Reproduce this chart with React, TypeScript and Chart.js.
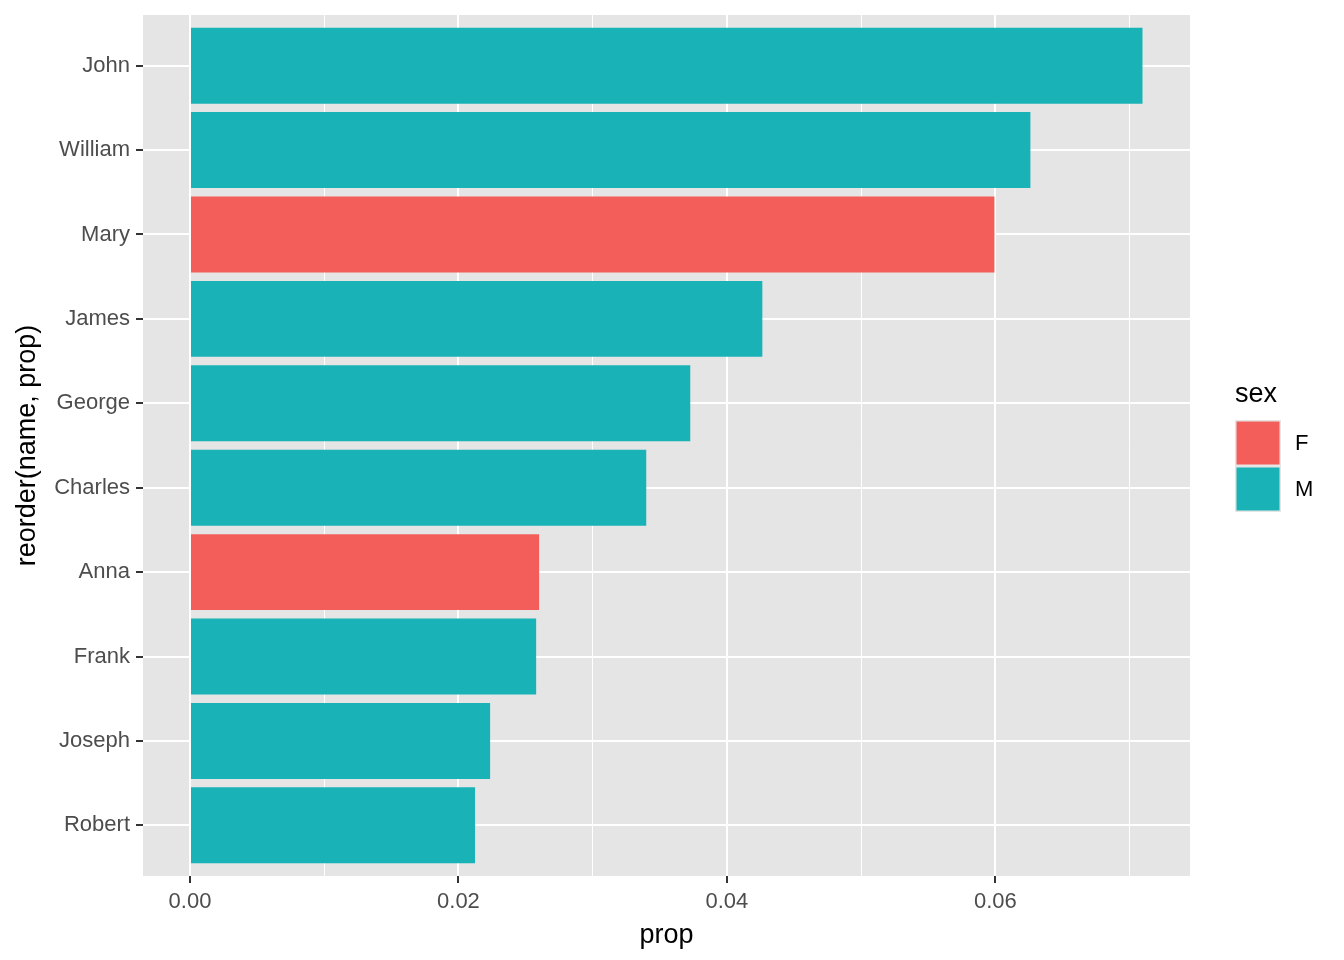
import React, { useEffect, useRef } from "react";
import { Chart, registerables } from "chart.js";

Chart.register(...registerables);

// ---- data ----
const names = ["Robert", "Joseph", "Frank", "Anna", "Charles", "George", "James", "Mary", "William", "John"];
const props = [0.02124, 0.02236, 0.02579, 0.02601, 0.03399, 0.03727, 0.04264, 0.05993, 0.06261, 0.07096];
const sexes = ["M", "M", "M", "F", "M", "M", "M", "F", "M", "M"];
const xTicks = [0, 0.01, 0.02, 0.03, 0.04, 0.05, 0.06, 0.07];
const xMajorTicks = [0, 0.02, 0.04, 0.06];
const sexLevels = ["F", "M"];
const sexColors = ["#F35E5A", "#19B2B7"];

const FONT = '"Liberation Sans", Arial, Helvetica, sans-serif';
const PANEL_BG = "#E5E5E5";

const isMajor = (v: number) => xMajorTicks.some((m) => Math.abs(m - v) < 1e-9);

const decorPlugin = {
  id: "decor",
  beforeDraw(chart: any) {
    const { ctx, chartArea } = chart;
    ctx.save();
    ctx.fillStyle = "#FFFFFF";
    ctx.fillRect(0, 0, chart.width, chart.height);
    ctx.fillStyle = PANEL_BG;
    ctx.fillRect(chartArea.left, chartArea.top, chartArea.right - chartArea.left, chartArea.bottom - chartArea.top);
    ctx.restore();
  },
  afterDraw(chart: any) {
    const { ctx, chartArea } = chart;
    ctx.save();
    // axis titles
    ctx.fillStyle = "#000000";
    ctx.font = `27px ${FONT}`;
    ctx.textAlign = "center";
    ctx.textBaseline = "alphabetic";
    ctx.fillText("prop", (chartArea.left + chartArea.right) / 2, 943);
    ctx.save();
    ctx.translate(35, (chartArea.top + chartArea.bottom) / 2);
    ctx.rotate(-Math.PI / 2);
    ctx.fillText("reorder(name, prop)", 0, 0);
    ctx.restore();

    // legend
    const lx = 1235;
    ctx.textAlign = "left";
    ctx.fillText("sex", lx, 402);
    const keySize = 46;
    const top0 = 420;
    ctx.font = `22px ${FONT}`;
    ctx.textBaseline = "middle";
    sexLevels.forEach((lvl, i) => {
      const ky = top0 + i * keySize;
      ctx.fillStyle = PANEL_BG;
      ctx.fillRect(lx, ky, keySize, keySize);
      ctx.fillStyle = sexColors[i];
      ctx.fillRect(lx + 1.5, ky + 1.5, keySize - 3, keySize - 3);
      ctx.fillStyle = "#000000";
      ctx.fillText(lvl, lx + 60, ky + keySize / 2 + 1);
    });
    ctx.restore();
  },
};

export default function App() {
  const canvasRef = useRef<HTMLCanvasElement | null>(null);

  useEffect(() => {
    if (!canvasRef.current) return;
    const chart = new Chart(canvasRef.current, {
      type: "bar",
      data: {
        datasets: [
          {
            label: "prop",
            data: names.map((n, i) => ({ x: props[i], y: i + 1 })),
            backgroundColor: sexes.map((s) => sexColors[sexLevels.indexOf(s)]),
            borderWidth: 0,
            barPercentage: 0.9,
            categoryPercentage: 1.0,
          },
        ],
      },
      options: {
        indexAxis: "y",
        responsive: false,
        animation: false,
        devicePixelRatio: 1,
        layout: { padding: { top: 15, right: 154, left: 0, bottom: 0 } },
        plugins: {
          legend: { display: false },
          tooltip: { enabled: false },
          title: { display: false },
        },
        scales: {
          x: {
            type: "linear",
            min: -0.0035,
            max: 0.0745,
            offset: false,
            border: { display: false },
            afterBuildTicks: (scale: any) => {
              scale.ticks = xTicks.map((v) => ({ value: v }));
            },
            afterFit: (scale: any) => {
              scale.height = 84;
            },
            grid: {
              offset: false,
              color: "#FFFFFF",
              lineWidth: (c: any) => (c.tick && isMajor(c.tick.value) ? 2 : 1),
              tickLength: 7,
              tickColor: (c: any) => (c.tick && isMajor(c.tick.value) ? "#333333" : "rgba(0,0,0,0)"),
              tickWidth: 2,
            },
            ticks: {
              autoSkip: false,
              maxRotation: 0,
              padding: 6,
              color: "#4D4D4D",
              font: { family: FONT, size: 22 },
              callback: (value: any) => (isMajor(Number(value)) ? Number(value).toFixed(2) : ""),
            },
          },
          y: {
            type: "linear",
            min: 0.4,
            max: 10.6,
            offset: false,
            border: { display: false },
            afterBuildTicks: (scale: any) => {
              scale.ticks = names.map((_, i) => ({ value: i + 1 }));
            },
            afterFit: (scale: any) => {
              scale.width = 143;
              scale.paddingTop = 0;
              scale.paddingBottom = 0;
            },
            grid: {
              offset: false,
              color: "#FFFFFF",
              lineWidth: 2,
              tickLength: 7,
              tickColor: "#333333",
              tickWidth: 2,
            },
            ticks: {
              autoSkip: false,
              padding: 6,
              color: "#4D4D4D",
              font: { family: FONT, size: 22 },
              callback: (value: any) => names[Math.round(Number(value)) - 1] ?? "",
            },
          },
        },
      } as any,
      plugins: [decorPlugin],
    });
    return () => chart.destroy();
  }, []);

  return (
    <div style={{ position: "fixed", left: 0, top: 0, width: 1344, height: 960, background: "#FFFFFF" }}>
      <canvas ref={canvasRef} width={1344} height={960} style={{ display: "block" }} />
    </div>
  );
}
